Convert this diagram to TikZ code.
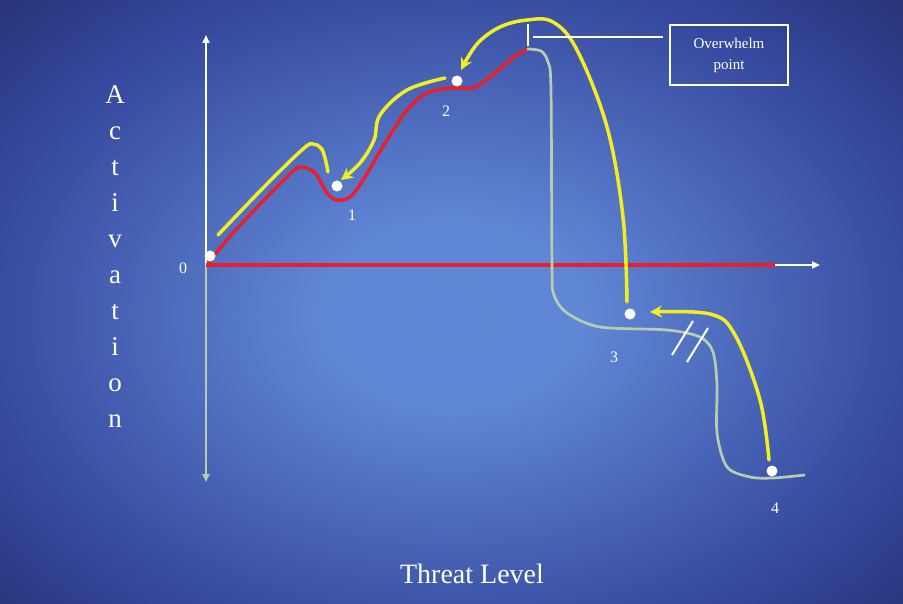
\documentclass[tikz,border=0pt]{standalone}
\usepackage{fontspec}
\setmainfont{Liberation Serif}
\usetikzlibrary{arrows.meta}
\definecolor{bgin}{HTML}{6188D8}
\definecolor{bgout}{HTML}{36499E}
\definecolor{bgcorner}{HTML}{232E6E}
\definecolor{redc}{HTML}{E8202C}
\definecolor{yelc}{HTML}{F2EE22}
\definecolor{grnc}{HTML}{B8CCB0}
\pgfdeclareradialshading{bgshade}{\pgfpoint{0bp}{0bp}}{color(0bp)=(bgin); color(7bp)=(bgin!97!bgout); color(25bp)=(bgout); color(36bp)=(bgcorner); color(50bp)=(bgcorner)}
\tikzset{
  redline/.style={draw=redc, line width=3.5pt},
  grnline/.style={draw=grnc, line width=2.7pt},
  yelarrow/.style={draw=yelc, line width=3.5pt, line cap=round, -{Stealth[length=12pt,width=12pt]}},
  yelline/.style={draw=yelc, line width=3.5pt, line cap=round},
  axisline/.style={draw=white, line width=2pt},
  dotw/.style={circle, fill=white, inner sep=0pt, minimum size=11pt},
  numlbl/.style={text=white, font=\fontsize{16}{18}\selectfont, inner sep=0pt},
  letter/.style={text=white, font=\fontsize{27}{30}\selectfont, inner sep=0pt},
  owbox/.style={draw=white, line width=2.2pt, text=white, align=center, minimum width=118pt, minimum height=60pt, font=\fontsize{15}{21}\selectfont}
}
\begin{document}
\begin{tikzpicture}[x=1pt,y=-1pt]
\useasboundingbox (0,0) rectangle (903,604);
\begin{scope}
\clip (0,0) rectangle (903,604);
\shade[shading=bgshade] (-20,-20) rectangle (923,650);
\end{scope}
% axes
\coordinate (o) at (206,265);
\coordinate (ytop) at (206,35);
\coordinate (ybot) at (206,482);
\coordinate (xend) at (820,265);
\coordinate (xred) at (775,265);
\draw[axisline, -{Triangle[length=8pt,width=7pt]}] (o) -- (ytop);
\draw[draw=grnc, line width=2pt, -{Triangle[length=8pt,width=7pt]}] (o) -- (ybot);
\draw[axisline, -{Triangle[length=8pt,width=7pt]}] (xred) -- (xend);
\draw[redline] (o) -- (xred);
% red curve
\draw[redline] plot[smooth, tension=0.55] coordinates {(208,263) (233,233) (267,197) (287,177) (300,167) (315,173) (327,193) (337,200) (350,197) (363,180) (387,140) (407,110) (427,93) (453,88) (473,88) (490,77) (510,60) (527,49)};
% green curve
\draw[grnline] plot[smooth, tension=0.5] coordinates {(527,49) (541,51) (548,62) (551,90) (552,267) (554,295) (567,313) (600,327) (667,330) (700,337) (713,352) (717,385) (717,433) (727,467) (750,477) (773,478) (805,475)};
% break marks
\draw[draw=white, line width=2pt] (672,355) -- (693,321);
\draw[draw=white, line width=2pt] (687,362) -- (708,328);
% dots
\node[dotw] (d0) at (210,256) {};
\node[dotw] (d1) at (337,186) {};
\node[dotw] (d2) at (457,81) {};
\node[dotw] (d3) at (630,314) {};
\node[dotw] (d4) at (772,471) {};
% yellow arrows
\draw[yelline] plot[smooth, tension=0.6] coordinates {(218,235) (265,186) (303,149) (313,144) (321,148) (325,158) (328,172)};
\draw[yelarrow] plot[smooth, tension=0.6] coordinates {(445,78) (407,90) (380,115) (374,140) (360,163) (341,180)};
\draw[yelarrow] plot[smooth, tension=0.6] coordinates {(627,302) (623,217) (607,127) (577,50) (553,22) (527,20) (500,27) (477,44) (461,70)};
\draw[yelarrow] plot[smooth, tension=0.6] coordinates {(769,460) (760,400) (735,335) (710,314) (650,312)};
% overwhelm point
\node[owbox] (ow) at (729,55) {Overwhelm\\point};
\coordinate (tickt) at (528,24);
\coordinate (tickb) at (528,46);
\coordinate (owl) at (533,37);
\coordinate (owr) at (663,37);
\draw[draw=white, line width=2pt] (tickt) -- (tickb);
\draw[draw=white, line width=2pt] (owl) -- (owr);
% labels
\node[numlbl] (l0) at (183,268) {0};
\node[numlbl] (l1) at (352,215) {1};
\node[numlbl] (l2) at (446,111) {2};
\node[numlbl] (l3) at (614,357) {3};
\node[numlbl] (l4) at (775,508) {4};
\node[text=white, font=\fontsize{28}{30}\selectfont] (tl) at (472,574) {Threat Level};
\foreach \ch [count=\i from 0] in {A,c,t,i,v,a,t,i,o,n}{
  \node[letter, anchor=base] (act\i) at (115,{104+35.9*\i}) {\ch};
}
\end{tikzpicture}
\end{document}
